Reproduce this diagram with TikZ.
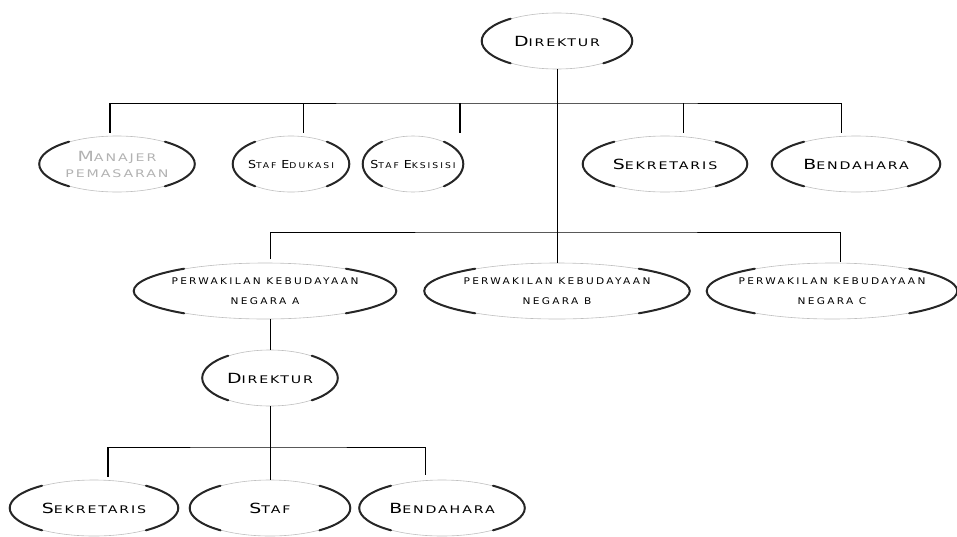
\documentclass[tikz,border=0pt]{standalone}
\usepackage{fontspec}
\usetikzlibrary{shapes.geometric,calc}
\newfontfamily\orgfont[LetterSpace=18,FakeStretch=1.35]{DejaVu Sans}
\newfontfamily\orgfontnarrow[LetterSpace=25,FakeStretch=1.15]{DejaVu Sans}
\newcommand{\initial}[2][14]{{\fontsize{#1}{#1}\selectfont #2}}

\begin{document}
\begin{tikzpicture}[x=1pt, y=-1pt, line width=0.6pt,
  oval/.style={ellipse, draw=black!25, line width=0.6pt, inner xsep=-60pt, inner ysep=-20pt,
    minimum height=56pt, align=center, font=\orgfont\fontsize{10.5}{13}\selectfont},
  small/.style={oval, font=\orgfontnarrow\fontsize{8}{10}\selectfont},
  wide/.style={oval, font=\orgfontnarrow\fontsize{9.2}{20}\selectfont},
  rim/.style={line width=2pt, draw=black!85, line cap=round},
  heavy/.style={line width=1.8pt}]
  \useasboundingbox (0,0) rectangle (957,536);

  % top
  \node[oval, minimum width=150pt] (dir) at (557,41) {\initial{D}IREKTUR};

  % staff row
  \node[oval, minimum width=155pt, text=black!30] (mgr) at (117,164) {\initial{M}ANAJER\\[3pt]PEMASARAN};
  \node[small, minimum width=116pt] (edu) at (291,164) {\initial[11]{S}TAF \initial[11]{E}DUKASI};
  \node[small, minimum width=100pt] (eks) at (413,164) {\initial[11]{S}TAF \initial[11]{E}KSISISI};
  \node[oval, minimum width=164pt] (sek) at (665,164) {\initial{S}EKRETARIS};
  \node[oval, minimum width=168pt] (ben) at (856,164) {\initial{B}ENDAHARA};

  % representatives
  \node[wide, minimum width=262pt] (nA) at (265,291) {PERWAKILAN KEBUDAYAAN\\NEGARA A};
  \node[wide, minimum width=265pt] (nB) at (557,291) {PERWAKILAN KEBUDAYAAN\\NEGARA B};
  \node[wide, minimum width=250pt] (nC) at (832,291) {PERWAKILAN KEBUDAYAAN\\NEGARA C};

  % branch office
  \node[oval, minimum width=135pt] (dir2) at (270,378) {\initial{D}IREKTUR};
  \node[oval, minimum width=168pt] (sek2) at (94,508) {\initial{S}EKRETARIS};
  \node[oval, minimum width=160pt] (staf) at (270,508) {\initial{S}TAF};
  \node[oval, minimum width=165pt] (ben2) at (442,508) {\initial{B}ENDAHARA};

  % dark rims
  \foreach \nd in {dir,mgr,edu,eks,sek,ben,nA,nB,nC,dir2,sek2,staf,ben2}
    \draw[rim] let \p0=(\nd.center), \p1=(\nd.east), \p2=(\nd.north),
        \n1={\x1-\x0}, \n2={\y2-\y0} in
      (\nd.west) arc[start angle=180, end angle=128, x radius=\n1, y radius=\n2]
      (\nd.west) arc[start angle=180, end angle=232, x radius=\n1, y radius=\n2]
      (\nd.east) arc[start angle=0, end angle=52, x radius=\n1, y radius=\n2]
      (\nd.east) arc[start angle=0, end angle=-52, x radius=\n1, y radius=\n2];

  % lines
  \coordinate (bus1) at (557,103);
  \coordinate (d1) at (110,133);
  \coordinate (d2) at (303,133);
  \coordinate (d3) at (460,133);
  \coordinate (d4) at (683,133);
  \coordinate (d5) at (841,133);
  \draw (dir) -- (nB);
  \draw (d1) |- (bus1) -| (d5);
  \draw[heavy] (d1 |- bus1) -- (d1);
  \draw (d2 |- bus1) -- (d2);
  \draw[heavy] (d3 |- bus1) -- (d3);
  \draw (d4 |- bus1) -- (d4);

  \coordinate (bus2) at (557,232);
  \coordinate (e1) at (270,259);
  \coordinate (e3) at (840,262);
  \draw (e1) |- (bus2) -| (e3);

  \draw (dir2 |- nA.south) -- (dir2);
  \draw (dir2) -- (staf);
  \coordinate (bus3) at (270,447);
  \coordinate (f1) at (108,477);
  \coordinate (f3) at (425,475);
  \draw (f1) |- (bus3) -| (f3);
  \draw[heavy] (f1 |- bus3) -- (f1);
\end{tikzpicture}
\end{document}
